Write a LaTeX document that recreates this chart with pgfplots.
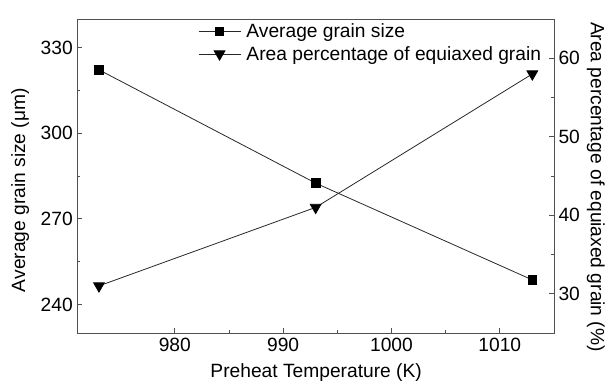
\documentclass[border=0pt]{standalone}
\usepackage{fontspec}
\setmainfont{Liberation Sans}
\usepackage{pgfplots}
\pgfplotsset{compat=1.18}
\definecolor{ln}{RGB}{40,40,40}
\definecolor{ax}{RGB}{80,80,80}
\begin{document}
\begin{tikzpicture}
\pgfplotsset{
  every axis/.append style={
    scale only axis, width=476.7pt, height=314pt,
    xmin=971, xmax=1015,
    font=\fontsize{19.2}{22}\selectfont,
    /pgf/number format/assume math mode=true,
    /pgf/number format/1000 sep={},
    tick align=inside,
    major tick length=5pt, minor tick length=3pt,
    tick style={ax, line width=0.7pt},
    axis line style={ax, line width=0.9pt},
  },
  legend image code/.code={%
    \path (-1pt,0pt) (46pt,0pt);
    \draw[mark repeat=2,mark phase=2] plot coordinates {(0pt,0pt)(21pt,0pt)(42pt,0pt)};},
}
\begin{axis}[name=main,
  ymin=230, ymax=340,
  xtick={980,990,1000,1010}, ytick={240,270,300,330},
  minor x tick num=1, minor y tick num=1,
  xtick pos=bottom, ytick pos=left,
  xticklabel style={yshift=-2pt},
  yticklabel style={xshift=-1pt},
  xlabel={Preheat Temperature (K)},
  ylabel={Average grain size (μm)},
  every axis x label/.style={at={(axis description cs:0.501,-0.127)}, anchor=center},
  every axis y label/.style={at={(axis description cs:-0.120,0.455)}, rotate=90, anchor=center},
]
\addplot[ln, line width=0.8pt, mark=square*, mark size=4.3pt, mark options={solid, fill=black, draw=black}]
  coordinates {(973,322.2) (993,282.5) (1013,248.6)};
\end{axis}
\begin{axis}[
  axis y line*=right, axis x line=none,
  ymin=25, ymax=65,
  ytick={30,40,50,60}, minor y tick num=1,
  yticklabel style={xshift=1pt},
  ylabel={Area percentage of equiaxed grain (\%)},
  every axis y label/.style={at={(axis description cs:1.088,0.465)}, rotate=-90, anchor=center},
  legend style={draw=none, fill=none, at={(axis description cs:0.251,0.990)}, anchor=north west,
    inner sep=0pt, row sep=4pt, legend cell align=left,
    nodes={inner sep=1.5pt}},
]
\addlegendimage{ln, line width=0.8pt, mark=square*, mark size=4.3pt, mark options={solid, fill=black, draw=black}}
\addlegendentry{Average grain size}
\addplot[ln, line width=0.8pt, mark=triangle*, mark size=6.2pt, mark options={solid, fill=black, draw=black, rotate=180}]
  coordinates {(973,31) (993,41) (1013,58)};
\addlegendentry{Area percentage of equiaxed grain}
\end{axis}
\pgfresetboundingbox
\path ([shift={(-77.3pt,-52pt)}]main.south west) rectangle ([shift={(54pt,19pt)}]main.north east);
\end{tikzpicture}
\end{document}
